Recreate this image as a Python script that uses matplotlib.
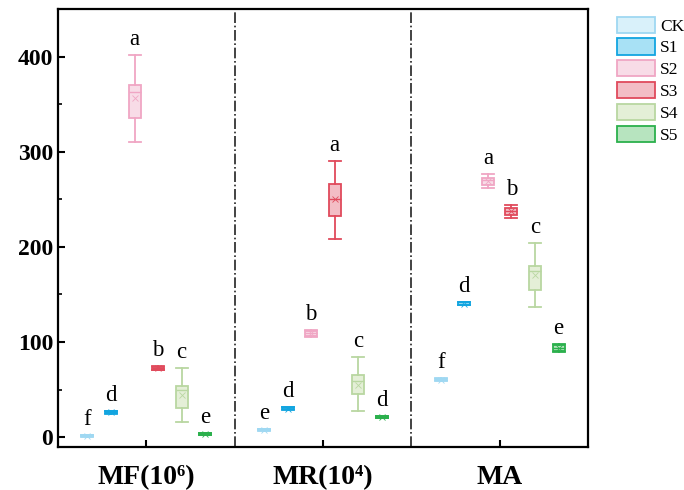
import matplotlib
matplotlib.use("Agg")
import matplotlib.pyplot as plt
from matplotlib.patches import Patch
from matplotlib.ticker import MultipleLocator

plt.rcParams['font.family'] = ['Liberation Serif', 'DejaVu Serif']

groups     = ['MF(10\u2076)', 'MR(10\u2074)', 'MA']
treatments = ['CK', 'S1', 'S2', 'S3', 'S4', 'S5']

# per group: one row per treatment -> whislo, q1, med, mean, q3, whishi
mf_stats = [[0.5, 1.0, 1.3, 1.3, 1.6, 2.0],
            [24.5, 25.0, 26.0, 26.0, 27.0, 27.5],
            [311, 336, 363, 357, 370, 402],
            [70.5, 71.0, 72.5, 72.5, 74.0, 74.5],
            [16, 31, 49, 44, 54, 73],
            [2.0, 2.5, 3.3, 3.3, 4.0, 4.5]]
mr_stats = [[6.5, 7.0, 7.6, 7.6, 8.2, 8.7],
            [28.5, 29.0, 30.0, 30.0, 31.5, 32.0],
            [105, 106, 109, 109, 112, 113],
            [208, 233, 251, 250, 266, 291],
            [27, 45, 59, 55, 65, 84],
            [19.5, 20.0, 21.0, 21.0, 22.0, 22.5]]
ma_stats = [[59.0, 59.5, 60.5, 60.5, 61.5, 62.0],
            [138.5, 139.0, 140.5, 140.5, 142.0, 142.5],
            [262, 265, 270, 269, 273, 277],
            [231, 234, 238, 238, 241, 244],
            [137, 155, 175, 170, 180, 204.5],
            [89, 91, 94, 94, 97, 98]]
letters = [['f', 'd', 'a', 'b', 'c', 'e'],
           ['e', 'd', 'b', 'a', 'c', 'd'],
           ['f', 'd', 'a', 'b', 'c', 'e']]

edge_colors = ['#9fd8f2', '#12a5e0', '#f0a6c4', '#e04a5c', '#b9d7a1', '#2bb04c']
face_colors = ['#d9f1fa', '#a8e1f5', '#f8dce7', '#f3bdc5', '#e4efd7', '#b7e4bf']

all_stats = [mf_stats, mr_stats, ma_stats]
offsets = [-1/3, -0.2, -1/15, 1/15, 0.2, 1/3]

fig = plt.figure(figsize=(6.84, 4.9), dpi=100)
ax = fig.add_axes([0.0848, 0.0878, 0.7748, 0.8938])

for g, stats in enumerate(all_stats):
    for t, row in enumerate(stats):
        lo, q1, med, mean, q3, hi = row
        pos = g + offsets[t]
        ec = edge_colors[t]
        ax.bxp([dict(whislo=lo, q1=q1, med=med, mean=mean, q3=q3, whishi=hi, fliers=[])],
               positions=[pos], widths=0.068, patch_artist=True, showmeans=True,
               boxprops=dict(facecolor=face_colors[t], edgecolor=ec, linewidth=1.3),
               whiskerprops=dict(color=ec, linewidth=1.3),
               capprops=dict(color=ec, linewidth=1.3),
               medianprops=dict(color=ec, linewidth=1.0),
               meanprops=dict(marker='x', markeredgecolor=ec, markersize=5, markeredgewidth=0.6),
               capwidths=0.068, manage_ticks=False)
        ax.text(pos, hi + 5, letters[g][t], ha='center', va='bottom', fontsize=16.5)

for xs in [0.5, 1.5]:
    ax.axvline(xs, color='#222222', linestyle='-.', linewidth=1.2)

ax.set_xlim(-0.5, 2.5)
ax.set_ylim(-10.5, 450.5)
ax.set_xticks([0, 1, 2])
ax.set_xticklabels(groups, fontsize=20, fontweight='bold')
ax.yaxis.set_major_locator(MultipleLocator(100))
ax.yaxis.set_minor_locator(MultipleLocator(50))
ax.tick_params(axis='both', direction='in', width=1.5, length=5)
ax.tick_params(axis='y', which='minor', direction='in', width=1.2, length=3)
ax.tick_params(axis='x', pad=13)
for lab in ax.get_yticklabels():
    lab.set_fontsize(17)
    lab.set_fontweight('bold')
for sp in ax.spines.values():
    sp.set_linewidth(1.6)

handles = [Patch(facecolor=face_colors[i], edgecolor=edge_colors[i], linewidth=1.3, label=treatments[i])
           for i in range(len(treatments))]
fig.legend(handles=handles, loc='upper left', bbox_to_anchor=(0.902, 0.966), frameon=False,
           fontsize=12.5, handlelength=2.2, handleheight=1.05, labelspacing=0.22,
           handletextpad=0.3, borderaxespad=0, borderpad=0)

fig.savefig('out.png', dpi=100)
